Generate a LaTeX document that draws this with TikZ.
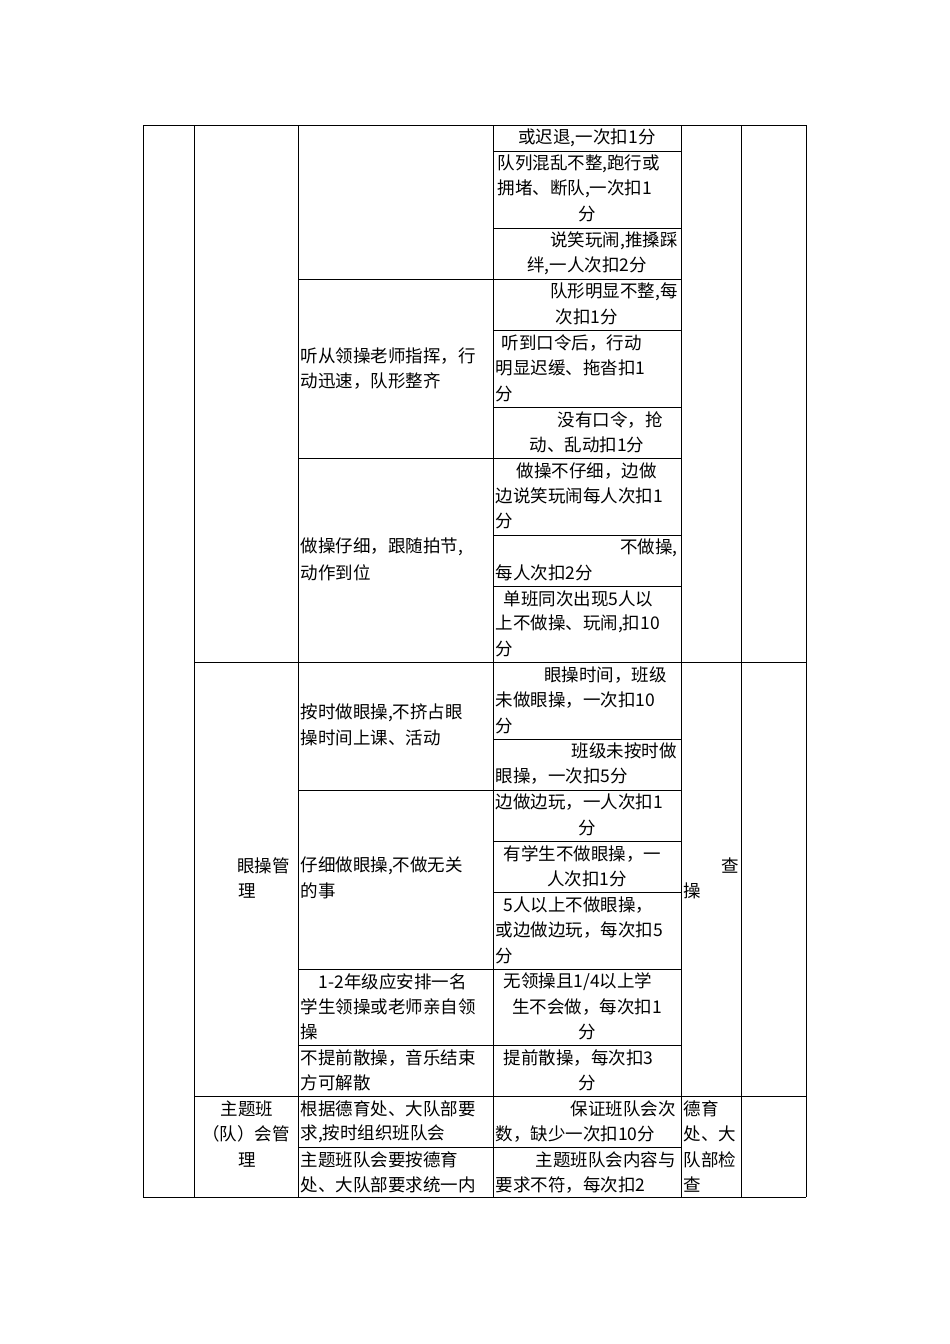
\documentclass[tikz,border=0pt]{standalone}
\usepackage{fontspec}
\setmainfont{Liberation Sans}
\newfontfamily\cjk{Noto Sans CJK SC}
\newcommand\tx[4]{\node[anchor=#3,inner sep=0pt,font=\cjk\fontsize{17.5}{20}\selectfont] at (#1,#2) {#4};}
\begin{document}
\begin{tikzpicture}[x=1pt,y=-1pt,line width=1pt]
\useasboundingbox (0,0) rectangle (950,1344);
\fill[white] (0,0) rectangle (950,1344);
% outer & columns
\draw (143,125) -- (806,125);
\draw (143,1197) -- (806,1197);
\foreach \x in {143,194,298,493,681,741,806} \draw (\x,125) -- (\x,1197);
% column 4 rows
\foreach \y in {151,228,279,330,407,458,535,586,662,739,790,841,892,969,1045,1096,1147} \draw (493,\y) -- (681,\y);
\foreach \y in {279,458,662,790,969,1045,1096,1147} \draw (298,\y) -- (493,\y);
\foreach \y in {662,1096} {\draw (194,\y) -- (298,\y); \draw (681,\y) -- (806,\y);}
% column 4 texts
\tx{587}{138}{center}{或迟退,一次扣1分}
\tx{497}{164}{west}{队列混乱不整,跑行或}
\tx{497}{189}{west}{拥堵、断队,一次扣1}
\tx{587}{214}{center}{分}
\tx{678}{241}{east}{说笑玩闹,推搡踩}
\tx{587}{266}{center}{绊,一人次扣2分}
\tx{678}{292}{east}{队形明显不整,每}
\tx{587}{317}{center}{次扣1分}
\tx{501}{343}{west}{听到口令后，行动}
\tx{495}{368}{west}{明显迟缓、拖沓扣1}
\tx{495}{394}{west}{分}
\tx{663}{420}{east}{没有口令，抢}
\tx{587}{445}{center}{动、乱动扣1分}
\tx{516}{471}{west}{做操不仔细，边做}
\tx{495}{496}{west}{边说笑玩闹每人次扣1}
\tx{495}{521}{west}{分}
\tx{678}{548}{east}{不做操,}
\tx{495}{573}{west}{每人次扣2分}
\tx{503}{599}{west}{单班同次出现5人以}
\tx{495}{624}{west}{上不做操、玩闹,扣10}
\tx{495}{649}{west}{分}
\tx{667}{675}{east}{眼操时间，班级}
\tx{495}{700}{west}{未做眼操，一次扣10}
\tx{495}{726}{west}{分}
\tx{677}{751}{east}{班级未按时做}
\tx{495}{776}{west}{眼操，一次扣5分}
\tx{495}{802}{west}{边做边玩，一人次扣1}
\tx{587}{828}{center}{分}
\tx{503}{854}{west}{有学生不做眼操，一}
\tx{587}{879}{center}{人次扣1分}
\tx{503}{905}{west}{5人以上不做眼操，}
\tx{495}{930}{west}{或边做边玩，每次扣5}
\tx{495}{956}{west}{分}
\tx{503}{982}{west}{无领操且1/4以上学}
\tx{587}{1007}{center}{生不会做，每次扣1}
\tx{587}{1032}{center}{分}
\tx{503}{1058}{west}{提前散操，每次扣3}
\tx{587}{1083}{center}{分}
\tx{676}{1109}{east}{保证班队会次}
\tx{495}{1134}{west}{数，缺少一次扣10分}
\tx{676}{1160}{east}{主题班队会内容与}
\tx{495}{1185}{west}{要求不符，每次扣2}
% column 3 texts
\tx{300}{356}{west}{听从领操老师指挥，行}
\tx{300}{381}{west}{动迅速，队形整齐}
\tx{300}{547}{west}{做操仔细，跟随拍节,}
\tx{300}{573}{west}{动作到位}
\tx{300}{713}{west}{按时做眼操,不挤占眼}
\tx{300}{738}{west}{操时间上课、活动}
\tx{300}{866}{west}{仔细做眼操,不做无关}
\tx{300}{891}{west}{的事}
\tx{318}{982}{west}{1-2年级应安排一名}
\tx{300}{1007}{west}{学生领操或老师亲自领}
\tx{300}{1032}{west}{操}
\tx{300}{1058}{west}{不提前散操，音乐结束}
\tx{300}{1083}{west}{方可解散}
\tx{300}{1109}{west}{根据德育处、大队部要}
\tx{300}{1134}{west}{求,按时组织班队会}
\tx{300}{1160}{west}{主题班队会要按德育}
\tx{300}{1185}{west}{处、大队部要求统一内}
% column 2
\tx{290}{866}{east}{眼操管}
\tx{247}{891}{center}{理}
\tx{247}{1109}{center}{主题班}
\tx{246}{1134}{center}{（队）会管}
\tx{247}{1160}{center}{理}
% column 5
\tx{739}{866}{east}{查}
\tx{683}{891}{west}{操}
\tx{683}{1109}{west}{德育}
\tx{683}{1134}{west}{处、大}
\tx{683}{1160}{west}{队部检}
\tx{683}{1185}{west}{查}
\end{tikzpicture}
\end{document}
